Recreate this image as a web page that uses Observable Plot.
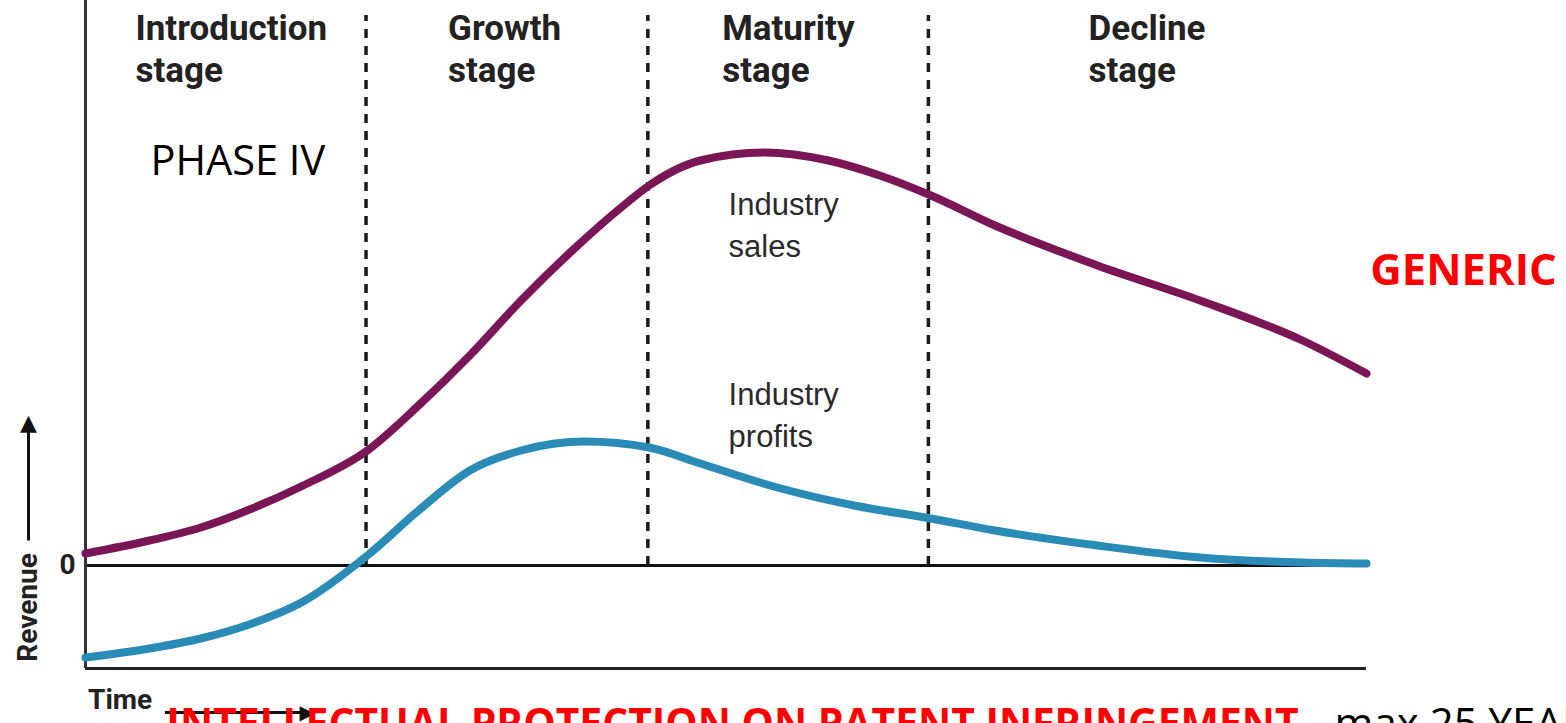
<!DOCTYPE html>
<html><head><meta charset="utf-8">
<script src="https://cdn.jsdelivr.net/npm/d3@7"></script>
<script src="https://cdn.jsdelivr.net/npm/@observablehq/plot@0.6"></script>
<style>html,body{margin:0;padding:0;background:#fff;overflow:hidden;width:1566px;height:723px}#chart svg{display:block}</style>
</head><body><div id="chart"></div>
<script>
// ---- data ----
const stageNames = ["Introduction\nstage", "Growth\nstage", "Maturity\nstage", "Decline\nstage"];
const stageBoundaries = [21.9, 43.9, 65.8];
const salesTime  = [0, 5, 9, 13, 17, 22, 26, 30, 34, 38, 42, 44, 48, 53, 58, 62, 66, 71, 79, 87, 95, 100];
const salesValue = [2.4, 5, 7.6, 11.4, 16, 23, 32, 42, 53, 63, 72, 76, 81, 82.6, 81, 78, 74, 68, 60, 53, 45, 38.4];
const profitTime  = [0, 5, 9, 13, 17, 22, 26, 30, 34, 39, 44, 48, 54, 60, 66, 71, 79, 87, 95, 100];
const profitValue = [-18.4, -16.6, -14.6, -11.6, -7.2, 2, 11, 19, 23, 24.8, 23.6, 20.4, 15.6, 12, 9.4, 7, 4, 1.6, 0.6, 0.4];
const seriesLabels = ["Industry\nsales", "Industry\nprofits"];
const phaseLabel = "PHASE IV";
const genericLabel = "GENERIC";
const bottomRed = "INTELLECTUAL PROTECTION ON PATENT INFRINGEMENT";
const bottomBlack = "- max 25 YEARS";
const zeroLabel = "0";
const yAxisLabel = "Revenue";
const xAxisLabel = "Time";

// ---- layout constants ----
const yMin = -20.6, yMax = 113;
const stageLabelX = [3.9, 28.3, 49.7, 78.3];
const seriesLabelX = 50.2, seriesLabelY = [76, 38];
const purple = "#7b1656", teal = "#2a8cb6";
const cond = "Roboto, 'Liberation Sans', sans-serif";

const sales = salesTime.map((t, i) => ({t, v: salesValue[i]}));
const profits = profitTime.map((t, i) => ({t, v: profitValue[i]}));

const chart = Plot.plot({
  width: 1566, height: 723,
  marginLeft: 85, marginRight: 200, marginTop: 0, marginBottom: 55,
  x: {domain: [0, 100], axis: null},
  y: {domain: [yMin, yMax], axis: null},
  style: {background: "white", overflow: "hidden"},
  marks: [
    Plot.ruleX(stageBoundaries, {y1: 0, y2: 110, stroke: "#1a1a1a", strokeWidth: 3.5, strokeDasharray: "9,8"}),
    Plot.ruleY([0], {stroke: "#111", strokeWidth: 3}),
    Plot.ruleY([yMin], {stroke: "#222", strokeWidth: 3}),
    Plot.ruleX([0], {stroke: "#333", strokeWidth: 3}),
    Plot.line(sales, {x: "t", y: "v", stroke: purple, strokeWidth: 8, curve: "monotone-x"}),
    Plot.line(profits, {x: "t", y: "v", stroke: teal, strokeWidth: 8, curve: "monotone-x"}),
    Plot.text(stageNames, {x: (d, i) => stageLabelX[i], y: 111, text: d => d, textAnchor: "start", lineAnchor: "top",
      fontSize: 35, fontWeight: "bold", fontFamily: cond, lineHeight: 1.2, fill: "#222"}),
    Plot.text(seriesLabels, {x: seriesLabelX, y: (d, i) => seriesLabelY[i], text: d => d, textAnchor: "start", lineAnchor: "top",
      fontSize: 31, fontFamily: "'Liberation Sans', sans-serif", lineHeight: 1.35, fill: "#2a2a2a"}),
    Plot.text([phaseLabel], {x: 5.07, y: 78.2, text: d => d, textAnchor: "start", lineAnchor: "bottom",
      fontSize: 41.5, fontFamily: "'Open Sans', sans-serif", fill: "#000"}),
    Plot.text([genericLabel], {x: 100.3, y: 56.2, text: d => d, textAnchor: "start", lineAnchor: "bottom",
      fontSize: 43.5, fontWeight: "bold", fontFamily: "'Open Sans', sans-serif", fill: "#ff0000"}),
    Plot.text([zeroLabel], {y: 0, text: d => d, frameAnchor: "left", textAnchor: "middle", dx: -18,
      fontSize: 28, fontWeight: "bold", fontFamily: cond, fill: "#222"}),
    Plot.text([yAxisLabel], {y: -8.4, text: d => d, frameAnchor: "left", textAnchor: "middle", dx: -57, rotate: -90,
      fontSize: 28, fontWeight: "bold", fontFamily: cond, fill: "#222"}),
    Plot.link([0], {x1: -4.45, x2: -4.45, y1: 5, y2: 27, stroke: "#111", strokeWidth: 3}),
    Plot.text(["▲"], {x: -4.45, y: 28.6, text: d => d, fontSize: 22, fontFamily: "'DejaVu Sans', sans-serif", fill: "#111"}),
    Plot.text([xAxisLabel], {x: 0.2, y: -28.6, text: d => d, textAnchor: "start", lineAnchor: "bottom",
      fontSize: 28, fontWeight: "bold", fontFamily: cond, fill: "#222"}),
    Plot.link([0], {x1: 6.2, x2: 17, y1: -29.4, y2: -29.4, stroke: "#111", strokeWidth: 3}),
    Plot.text(["▶"], {x: 17.3, y: -29.4, text: d => d, fontSize: 20, fontFamily: "'DejaVu Sans', sans-serif", fill: "#111"}),
    Plot.text([bottomRed], {x: 94.7, y: -34.4, text: d => d, textAnchor: "end", lineAnchor: "bottom",
      fontSize: 40.8, fontWeight: "bold", fontFamily: "'Open Sans', sans-serif", fill: "#ff0000"}),
    Plot.text([bottomBlack], {x: 95.6, y: -34.4, text: d => d, textAnchor: "start", lineAnchor: "bottom",
      fontSize: 42, fontFamily: "'Open Sans', sans-serif", fill: "#000"})
  ]
});
document.getElementById("chart").append(chart);
</script>
</body></html>
